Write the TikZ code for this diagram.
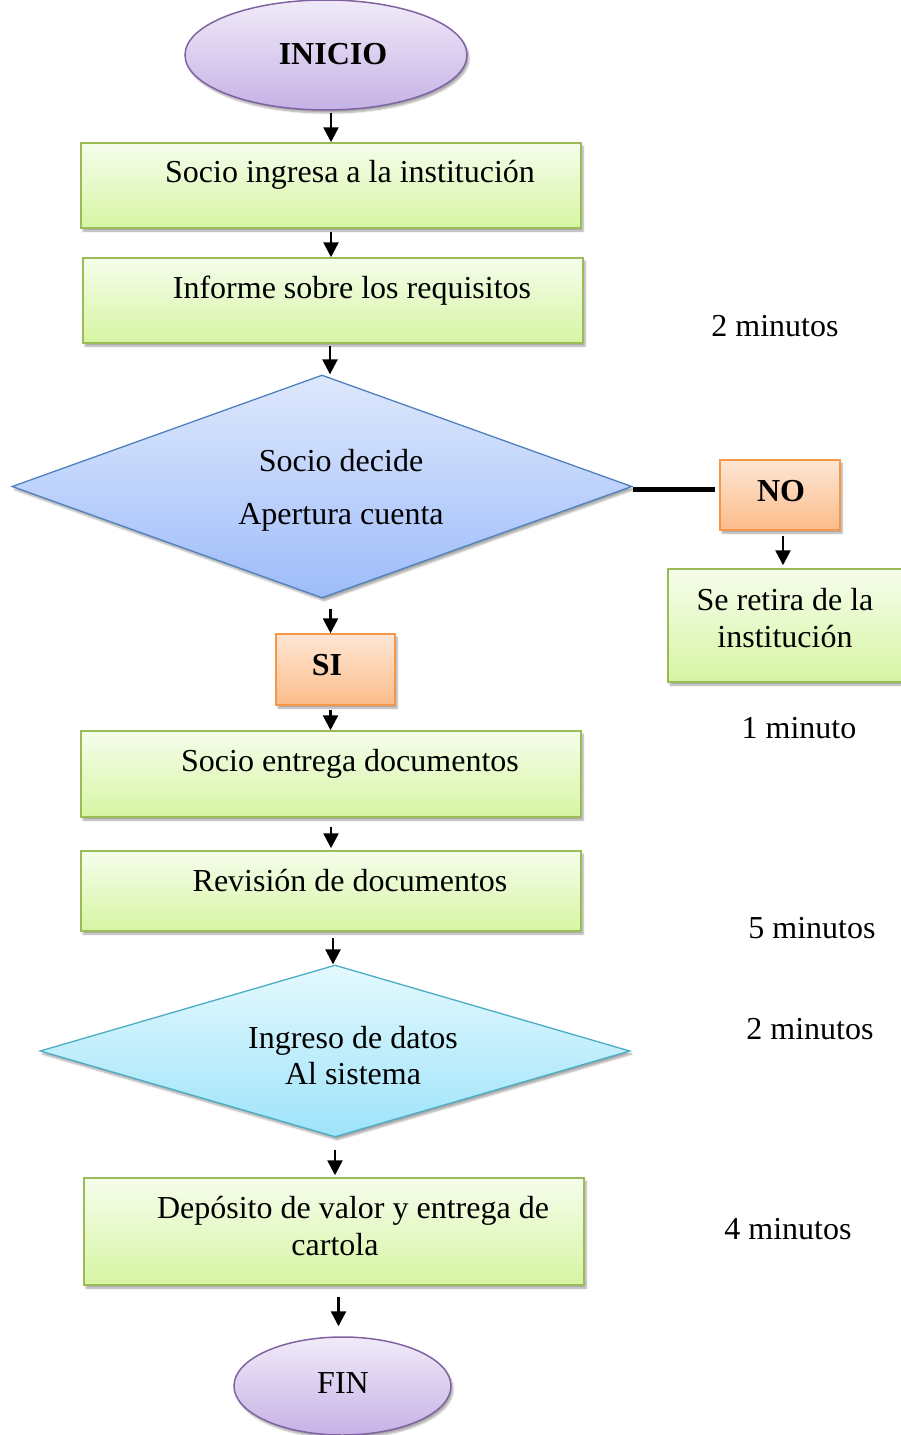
\documentclass[tikz,border=0pt]{standalone}
\usepackage{fontspec}
\setmainfont{Liberation Serif}
\usetikzlibrary{shapes.geometric,arrows.meta,shadows.blur}
\definecolor{gtop}{RGB}{246,253,236}
\definecolor{gbot}{RGB}{214,245,163}
\definecolor{gbrd}{RGB}{155,187,89}
\definecolor{otop}{RGB}{253,230,212}
\definecolor{obot}{RGB}{252,188,138}
\definecolor{obrd}{RGB}{247,150,70}
\definecolor{ptop}{RGB}{240,234,248}
\definecolor{pbot}{RGB}{198,178,230}
\definecolor{pbrd}{RGB}{128,100,162}
\definecolor{btop}{RGB}{222,232,252}
\definecolor{bbot}{RGB}{158,188,250}
\definecolor{bbrd}{RGB}{79,129,189}
\definecolor{ctop}{RGB}{228,249,254}
\definecolor{cbot}{RGB}{158,227,250}
\definecolor{cbrd}{RGB}{75,172,198}
\tikzset{
  shad/.style={blur shadow={shadow xshift=2pt,shadow yshift=-3pt,shadow opacity=35,shadow blur steps=6}},
  gbox/.style={rectangle,draw=gbrd,line width=1.5pt,top color=gtop,bottom color=gbot,shad,inner sep=0pt},
  obox/.style={rectangle,draw=obrd,line width=1.5pt,top color=otop,bottom color=obot,shad,inner sep=0pt},
  term/.style={ellipse,draw=pbrd,line width=1.5pt,top color=ptop,bottom color=pbot,shad,inner sep=0pt},
  bdia/.style={diamond,draw=bbrd,line width=1.3pt,top color=btop,bottom color=bbot,shad,inner sep=0pt},
  cdia/.style={diamond,draw=cbrd,line width=1.3pt,top color=ctop,bottom color=cbot,shad,inner sep=0pt},
  txt/.style={font=\fontsize{32}{37}\selectfont,inner sep=0pt,anchor=base},
  arr/.style={line width=2.5pt,-{Triangle[width=15pt,length=15pt]}},
}
\begin{document}
\begin{tikzpicture}[x=1pt,y=-1pt]
\useasboundingbox (0,0) rectangle (901,1435);
% shapes
\node[term,minimum width=282,minimum height=110] (ini) at (326,55) {};
\node[gbox,minimum width=500,minimum height=85] (b1) at (331,185.5) {};
\node[gbox,minimum width=500,minimum height=85] (b2) at (333,300.5) {};
\node[bdia,minimum width=620,minimum height=223] (d1) at (322,486.5) {};
\node[obox,minimum width=120,minimum height=70] (no) at (780,495) {};
\node[gbox,minimum width=237,minimum height=113] (ret) at (786.5,625.5) {};
\node[obox,minimum width=119,minimum height=71] (si) at (335.5,669.5) {};
\node[gbox,minimum width=500,minimum height=86] (b3) at (331,774) {};
\node[gbox,minimum width=500,minimum height=80] (b4) at (331,891) {};
\node[cdia,minimum width=590,minimum height=172] (d2) at (335,1051) {};
\node[gbox,minimum width=500,minimum height=107] (b5) at (334,1231.5) {};
\node[term,minimum width=217,minimum height=98] (fin) at (342.5,1386) {};
% texts
\node[txt,font=\fontsize{32}{37}\selectfont\bfseries] (tini) at (333,64) {INICIO};
\node[txt] (t1) at (350,182) {Socio ingresa a la institución};
\node[txt] (t2) at (352,298) {Informe sobre los requisitos};
\node[txt] (m1) at (775,336) {2 minutos};
\node[txt] (td1a) at (341,471) {Socio decide};
\node[txt] (td1b) at (341,524) {Apertura cuenta};
\node[txt,font=\fontsize{32}{37}\selectfont\bfseries] (tno) at (781,501) {NO};
\node[txt] (tra) at (785,610) {Se retira de la};
\node[txt] (trb) at (785,647) {institución};
\node[txt,font=\fontsize{32}{37}\selectfont\bfseries] (tsi) at (327,675) {SI};
\node[txt] (m2) at (799,738) {1 minuto};
\node[txt] (t3) at (350,771) {Socio entrega documentos};
\node[txt] (t4) at (350,891) {Revisión de documentos};
\node[txt] (m3) at (812,938) {5 minutos};
\node[txt] (td2a) at (353,1048) {Ingreso de datos};
\node[txt] (td2b) at (353,1084) {Al sistema};
\node[txt] (m4) at (810,1039) {2 minutos};
\node[txt] (t5a) at (353,1218) {Depósito de valor y entrega de};
\node[txt] (t5b) at (335,1255) {cartola};
\node[txt] (m5) at (788,1239) {4 minutos};
\node[txt] (tfin) at (343,1393) {FIN};
% connectors
\draw[arr,shorten <=2pt] (ini.south -| b1.north) -- (b1.north);
\draw[arr,shorten <=3pt] (b1.south) -- (b1.south |- b2.north);
\draw[arr,shorten <=2pt] ([xshift=-3pt]b2.south) -- ([xshift=-3pt]b2.south |- d1.north);
\draw[line width=5pt,shorten >=4pt] ([yshift=-3pt]d1.east) -- ([yshift=-3pt]d1.east -| no.west);
\draw[arr,shorten <=5pt,shorten >=3pt] ([xshift=3pt]no.south) -- ([xshift=3pt]no.south |- ret.north);
\draw[arr,shorten <=10pt] ([xshift=-5pt]d1.south -| si.north) -- ([xshift=-5pt]si.north);
\draw[arr,shorten <=4pt] ([xshift=-5pt]si.south) -- ([xshift=-5pt]si.south |- b3.north);
\draw[arr,shorten <=9pt,shorten >=2pt] (b3.south) -- (b3.south |- b4.north);
\draw[arr,shorten <=6pt] ([xshift=2pt]b4.south) -- ([xshift=2pt]b4.south |- d2.north);
\draw[arr,shorten <=12pt,shorten >=2pt] (d2.south) -- (d2.south |- b5.north);
\draw[arr,shorten <=11pt,shorten >=10pt] ([xshift=-4pt]b5.south -| fin.north) -- ([xshift=-4pt]fin.north);
\end{tikzpicture}
\end{document}
